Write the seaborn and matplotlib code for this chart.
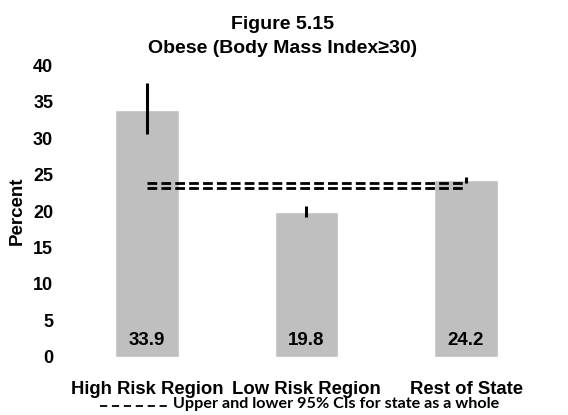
import numpy as np
import pandas as pd
import seaborn as sns
import matplotlib.pyplot as plt

# values
regions = ["High Risk Region", "Low Risk Region", "Rest of State"]
percent = [33.9, 19.8, 24.2]
ci_lower = [30.5, 19.2, 23.9]
ci_upper = [37.5, 20.7, 24.7]
state_ci = [23.1, 23.9]

sns.set_theme(style="white")
plt.rcParams["font.family"] = ["Liberation Sans", "DejaVu Sans"]
plt.rcParams["text.color"] = "black"
plt.rcParams["xtick.color"] = "black"
plt.rcParams["ytick.color"] = "black"
plt.rcParams["axes.labelcolor"] = "black"

df = pd.DataFrame({"region": regions, "percent": percent})

fig = plt.figure(figsize=(5.68, 4.15), dpi=100)
ax = fig.add_axes([0.118, 0.14, 0.843, 0.703])

sns.barplot(data=df, x="region", y="percent", color="#BFBFBF", saturation=1,
            width=0.4, ax=ax)

x = np.arange(len(regions))
ax.vlines(x, ci_lower, ci_upper, color="black", linewidth=2.2)

# state-wide 95% CI band
ax.hlines(state_ci, x[0], x[-1], color="black", linewidth=2.0,
          linestyles=(0, (3.5, 1.5)))

for xi, v in zip(x, percent):
    ax.text(xi, 1.1, f"{v}", ha="center", va="bottom", fontsize=13.5,
            fontweight="bold")

ax.set_xlim(-0.5, 2.5)
ax.set_ylim(0, 40)
ax.set_yticks(range(0, 41, 5))
ax.tick_params(axis="y", labelsize=13, pad=10, length=0)
ax.tick_params(axis="x", labelsize=13.3, pad=17, length=0)
for lab in ax.get_xticklabels() + ax.get_yticklabels():
    lab.set_fontweight("bold")
ax.set_xlabel("")
ax.set_ylabel("Percent", fontsize=13.5, fontweight="bold")
ax.yaxis.set_label_coords(-0.087, 0.5)
sns.despine(ax=ax, left=True, bottom=True)

fig.text(0.497, 0.942, "Figure 5.15", ha="center", va="center",
         fontsize=14, fontweight="bold")
fig.text(0.497, 0.883, "Obese (Body Mass Index\u226530)", ha="center",
         va="center", fontsize=14, fontweight="bold")

fig.add_artist(plt.Line2D([0.176, 0.3], [0.022, 0.022], color="black",
                          linewidth=1.3, linestyle=(0, (4, 2.6)),
                          transform=fig.transFigure))
fig.text(0.305, 0.027, "Upper and lower 95% CIs for state as a whole",
         ha="left", va="center", fontsize=11.6, fontweight="bold",
         family=["Lato", "DejaVu Sans"])

fig.savefig("out.png", dpi=100)
